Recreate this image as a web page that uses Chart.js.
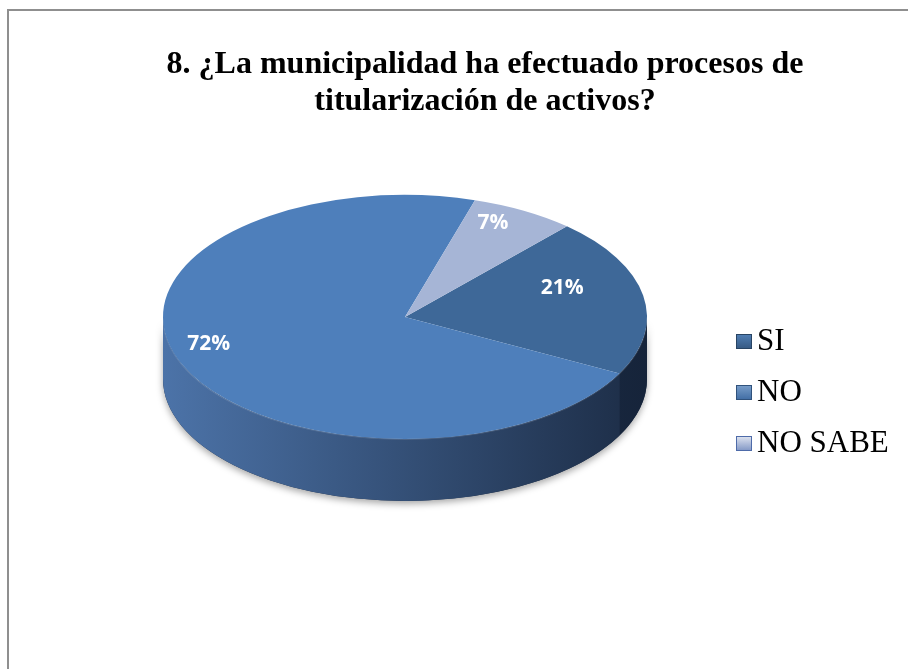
<!DOCTYPE html>
<html lang="es">
<head>
<meta charset="utf-8">
<title>Titularización de activos</title>
<script src="https://cdn.jsdelivr.net/npm/chart.js@4.4.1/dist/chart.umd.min.js"></script>
<style>
  html, body { margin: 0; padding: 0; background: #fff; }
  canvas { display: block; }
</style>
</head>
<body>
<canvas id="grafico" width="908" height="669"></canvas>
<script>
// pregunta 8: respuestas en porcentaje
const respuestas = ['SI', 'NO', 'NO SABE'];
const porcentajes = [21, 72, 7];
const titulo = ['8. ¿La municipalidad ha efectuado procesos de', 'titularización de activos?'];

// estilo del pastel "3D"
const coloresCara = ['#3e6898', '#4e7fbb', '#a6b5d6'];
const coloresPared = [['#26406a', '#16243a'], ['#4c73a8', '#1c2c45'], ['#8796b4', '#56627c']];
const INCLINACION = 0.504;   // aplastamiento vertical de la cara superior
const PROFUNDIDAD = 62;      // alto de la pared lateral en px
const alcanceEtiqueta = [0.66, 0.88, 0.74];
const ELEVACION = 15;

// pared lateral + transformación de la cara superior
const pastel3d = {
  id: 'pastel3d',
  beforeDatasetsDraw(chart) {
    const ctx = chart.ctx;
    const arcs = chart.getDatasetMeta(0).data;
    const cx = arcs[0].x, cy = arcs[0].y, r = arcs[0].outerRadius;
    const dep = PROFUNDIDAD / INCLINACION;

    ctx.save();
    ctx.translate(cx, cy);
    ctx.scale(1, INCLINACION);

    // silueta con sombra
    ctx.save();
    ctx.shadowColor = 'rgba(0,0,0,0.35)';
    ctx.shadowBlur = 7;
    ctx.shadowOffsetY = 3;
    ctx.fillStyle = '#1c2c45';
    ctx.beginPath();
    ctx.arc(0, 0, r, 0, Math.PI);
    ctx.arc(0, dep, r, Math.PI, 0, true);
    ctx.closePath();
    ctx.fill();
    ctx.restore();

    arcs.forEach((arc, i) => {
      const g = ctx.createLinearGradient(-r, 0, r, 0);
      g.addColorStop(0, coloresPared[i][0]);
      g.addColorStop(1, coloresPared[i][1]);
      [-2 * Math.PI, 0, 2 * Math.PI].forEach(k => {
        const a = Math.max(arc.startAngle + k, 0);
        const b = Math.min(arc.endAngle + k, Math.PI);
        if (b <= a) return;
        ctx.fillStyle = g;
        ctx.beginPath();
        ctx.arc(0, 0, r, a, b);
        ctx.arc(0, dep, r, b, a, true);
        ctx.closePath();
        ctx.fill();
      });
    });

    // brillo del borde frontal
    ctx.strokeStyle = 'rgba(255,255,255,0.12)';
    ctx.lineWidth = 3;
    ctx.beginPath();
    ctx.arc(0, 1.5, r - 1, 0.05, Math.PI - 0.05);
    ctx.stroke();
    ctx.restore();

    // la cara superior se dibuja aplastada
    ctx.save();
    ctx.translate(cx, cy);
    ctx.scale(1, INCLINACION);
    ctx.translate(-cx, -cy);
  },
  afterDatasetsDraw(chart) {
    const ctx = chart.ctx;
    ctx.restore();

    // porcentajes sobre cada porción
    const arcs = chart.getDatasetMeta(0).data;
    ctx.save();
    ctx.fillStyle = '#ffffff';
    ctx.font = 'bold 21px "Open Sans", sans-serif';
    ctx.textAlign = 'center';
    ctx.textBaseline = 'middle';
    arcs.forEach((arc, i) => {
      const mid = (arc.startAngle + arc.endAngle) / 2;
      const rr = arc.outerRadius * alcanceEtiqueta[i];
      const x = arc.x + Math.cos(mid) * rr;
      const y = arc.y + Math.sin(mid) * rr * INCLINACION - ELEVACION;
      ctx.fillText(porcentajes[i] + '%', x, y);
    });
    ctx.restore();
  }
};

// marco, título y leyenda
const adornos = {
  id: 'adornos',
  beforeDraw(chart) {
    const ctx = chart.ctx;
    ctx.save();
    ctx.fillStyle = '#fff';
    ctx.fillRect(0, 0, chart.width, chart.height);
    ctx.strokeStyle = '#8f8f8f';
    ctx.lineWidth = 2;
    ctx.beginPath();
    ctx.moveTo(chart.width, 10);
    ctx.lineTo(8, 10);
    ctx.lineTo(8, chart.height);
    ctx.stroke();
    ctx.restore();
  },
  afterDraw(chart) {
    const ctx = chart.ctx;
    ctx.save();
    ctx.fillStyle = '#000';
    ctx.textAlign = 'center';
    ctx.textBaseline = 'middle';
    ctx.font = 'bold 32px "Liberation Serif", "Times New Roman", serif';
    titulo.forEach((linea, i) => ctx.fillText(linea, 485, 65 + i * 37));

    ctx.textAlign = 'left';
    ctx.font = '31px "Liberation Serif", "Times New Roman", serif';
    respuestas.forEach((txt, i) => {
      const y = 341 + i * 51;
      const g = ctx.createLinearGradient(0, y - 8, 0, y + 8);
      g.addColorStop(0, Chart.helpers.color(coloresCara[i]).lighten(0.25).rgbString());
      g.addColorStop(1, Chart.helpers.color(coloresCara[i]).darken(0.15).rgbString());
      ctx.fillStyle = g;
      ctx.fillRect(736, y - 7, 16, 15);
      ctx.strokeStyle = Chart.helpers.color(coloresCara[i]).darken(0.35).rgbString();
      ctx.lineWidth = 1;
      ctx.strokeRect(736.5, y - 6.5, 15, 14);
      ctx.fillStyle = '#000';
      ctx.fillText(txt, 757, y + 1);
    });
    ctx.restore();
  }
};

new Chart(document.getElementById('grafico'), {
  type: 'pie',
  data: {
    labels: respuestas,
    datasets: [{
      data: porcentajes,
      backgroundColor: coloresCara,
      borderWidth: 0,
      clip: false
    }]
  },
  options: {
    responsive: false,
    animation: false,
    devicePixelRatio: 1,
    events: [],
    rotation: 42,
    layout: { padding: { left: 163, right: 261, top: 75, bottom: 110 } },
    plugins: {
      legend: { display: false },
      title: { display: false },
      tooltip: { enabled: false }
    }
  },
  plugins: [pastel3d, adornos]
});
</script>
</body>
</html>
